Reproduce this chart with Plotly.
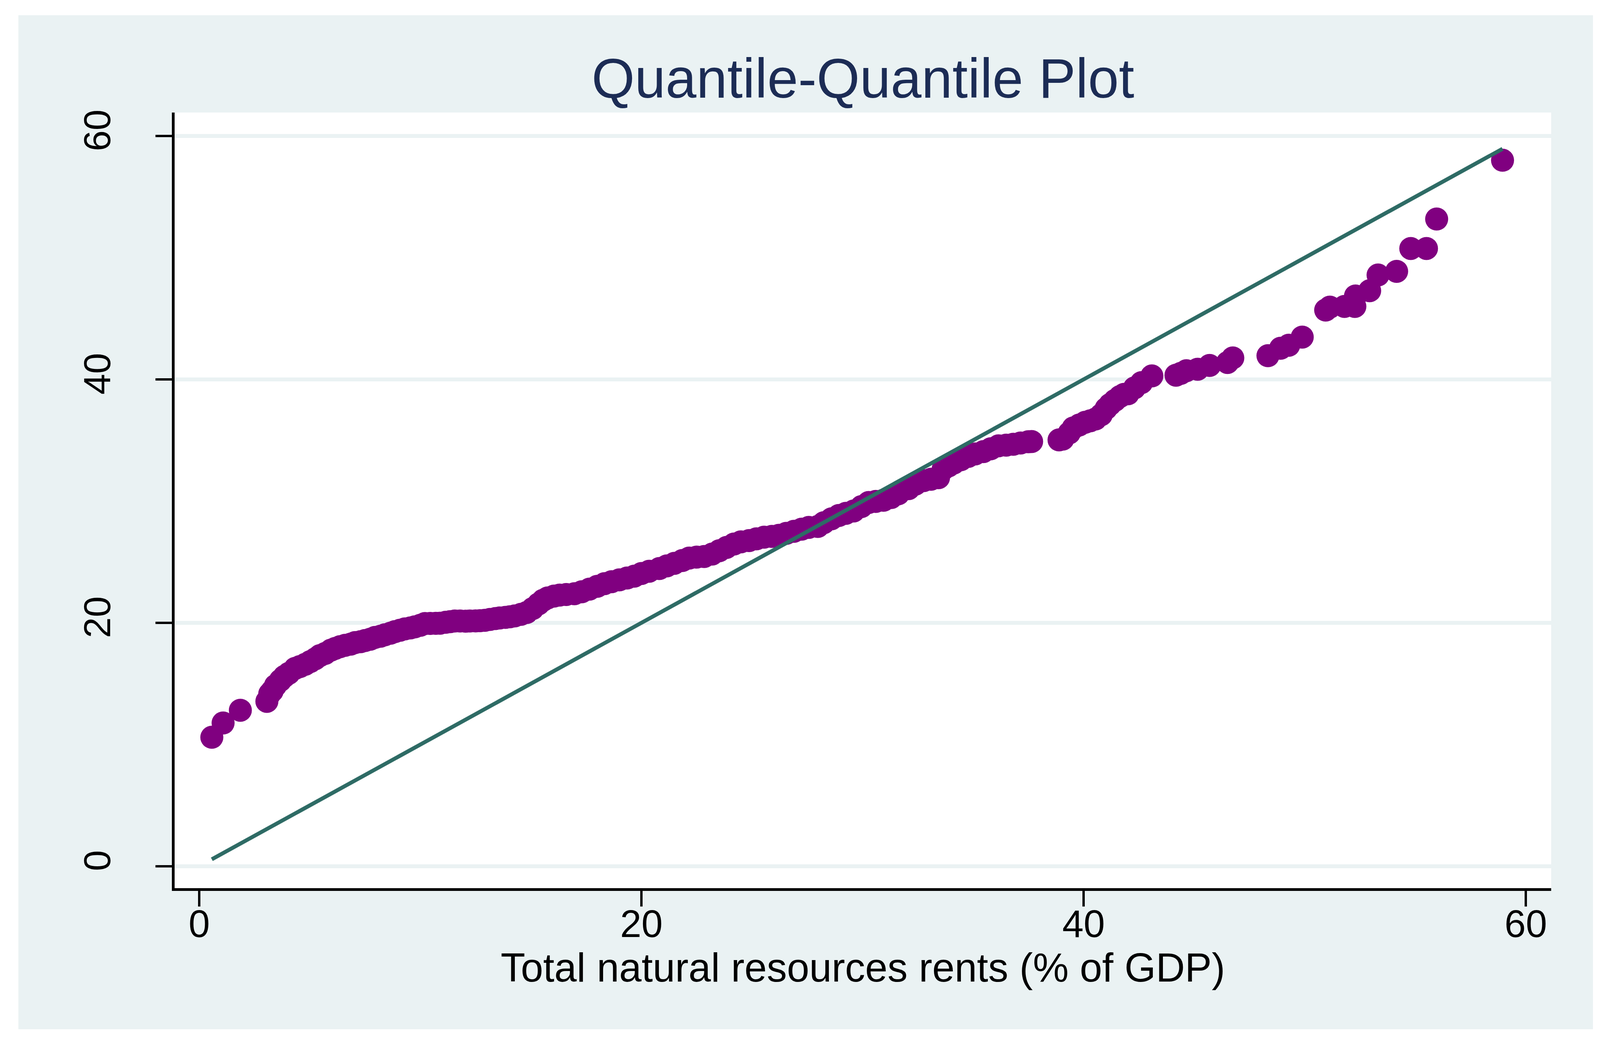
import plotly.graph_objects as go

# Quantiles of the second variable (x) and of rents (y)
qx = [0.57, 1.08, 1.86,
      3.06, 3.19, 3.30, 3.45, 3.67, 3.85, 4.05, 4.34, 4.55, 4.80, 5.02, 5.25, 5.45, 5.70,
      5.95, 6.15, 6.37, 6.60, 6.85, 7.05, 7.30, 7.50, 7.73, 7.95, 8.20, 8.40, 8.65, 8.85,
      9.08, 9.30, 9.55, 9.75, 10.00, 10.21, 10.45, 10.70, 10.89, 11.15, 11.35, 11.56,
      11.80, 12.05, 12.24, 12.50, 12.70, 12.92, 13.15, 13.40, 13.59, 13.85, 14.05, 14.27,
      14.55, 14.81, 15.08, 15.35, 15.55, 15.76, 16.05, 16.30, 16.60, 16.97, 17.30, 17.65,
      18.00, 18.33, 18.65, 19.00, 19.35, 19.68, 20.00, 20.35, 20.81, 21.15, 21.49, 21.85,
      22.16, 22.50, 22.84, 23.20, 23.52, 23.85, 24.19, 24.50, 24.87, 25.20, 25.55, 25.90,
      26.22, 26.55, 26.90, 27.25, 27.57, 27.98, 28.25, 28.60, 28.93, 29.25, 29.60, 29.95,
      30.28, 30.60, 30.95, 31.30, 31.62, 32.09, 32.40, 32.77, 33.10, 33.44, 33.65, 33.90,
      34.12, 34.45, 34.79, 35.10, 35.47, 35.80, 36.15, 36.50, 36.82, 37.15, 37.50, 37.65,
      38.89, 39.06, 39.35, 39.53, 39.80, 40.07, 40.30, 40.54, 40.80, 41.02, 41.20, 41.42,
      41.65, 41.83, 42.01, 42.30, 42.62, 43.09, 44.18, 44.40, 44.65, 45.16, 45.70, 46.51,
      46.75, 48.34, 48.91, 49.28, 49.89, 50.95, 51.14, 51.80, 52.27, 52.30, 52.94, 53.32,
      54.16, 54.80, 55.51, 55.97, 58.95]
qy = [10.60, 11.77, 12.82,
      13.55, 14.17, 14.41, 14.85, 15.27, 15.60, 15.85, 16.26, 16.40, 16.60, 16.81, 17.05, 17.30, 17.49,
      17.75, 17.90, 18.04, 18.15, 18.25, 18.38, 18.45, 18.55, 18.65, 18.80, 18.90, 19.02, 19.15, 19.28,
      19.39, 19.50, 19.58, 19.67, 19.80, 19.94, 19.95, 19.96, 19.97, 20.05, 20.10, 20.15,
      20.15, 20.14, 20.15, 20.16, 20.18, 20.21, 20.28, 20.35, 20.40, 20.45, 20.50, 20.57,
      20.70, 20.85, 21.17, 21.56, 21.85, 22.05, 22.20, 22.28, 22.33, 22.39, 22.55, 22.77,
      23.00, 23.22, 23.38, 23.53, 23.68, 23.84, 24.05, 24.24, 24.46, 24.68, 24.89, 25.12,
      25.32, 25.40, 25.45, 25.65, 25.92, 26.20, 26.48, 26.65, 26.76, 26.90, 27.04, 27.10,
      27.19, 27.35, 27.52, 27.70, 27.84, 27.92, 28.23, 28.55, 28.82, 29.00, 29.19, 29.55,
      29.89, 29.98, 30.07, 30.30, 30.60, 31.03, 31.40, 31.69, 31.80, 31.93, 32.63, 32.90,
      33.12, 33.40, 33.68, 33.88, 34.07, 34.30, 34.54, 34.60, 34.67, 34.78, 34.88, 34.90,
      35.03, 35.10, 35.60, 36.01, 36.25, 36.48, 36.60, 36.75, 37.10, 37.61, 37.95, 38.28,
      38.60, 38.77, 38.82, 39.30, 39.74, 40.29, 40.35, 40.50, 40.72, 40.84, 41.15, 41.39,
      41.77, 41.95, 42.56, 42.81, 43.48, 45.70, 45.94, 46.00, 46.00, 46.86, 47.29, 48.58,
      48.88, 50.76, 50.76, 53.18, 58.01]

# Reference line y = x over the data range
line_x = [0.57, 58.95]
line_y = [0.57, 58.95]

tick_vals = [0, 20, 40, 60]
tick_text = ["0", "20", "40", "60"]

title_text = "Quantile-Quantile Plot"
x_title = "Total natural resources rents (% of GDP)"

FONT = "Liberation Sans, Arial, sans-serif"
PANEL = "#EAF2F3"

W, H = 4109, 2659
L, R, T, B = 439, 146, 280, 394
pw, ph = W - L - R, H - T - B

fig = go.Figure()
fig.add_trace(go.Scatter(
    x=qx, y=qy, mode="markers",
    marker=dict(color="#800080", size=59, line=dict(width=0)),
    showlegend=False, hoverinfo="x+y"))
fig.add_trace(go.Scatter(
    x=line_x, y=line_y, mode="lines",
    line=dict(color="#2E6B65", width=10),
    showlegend=False, hoverinfo="skip"))


def px_x(p):
    return (p - L) / pw


def px_y(p):
    # pixel row from the top -> paper fraction
    return (H - B - p) / ph


# thin white frame around the light outer panel (pixel bands: left, right, top, bottom)
for (a, b, c, d) in [(0, 39, 0, H), (4070, W, 0, H), (0, W, 0, 31), (0, W, 2626, H)]:
    fig.add_shape(type="rect", xref="paper", yref="paper", layer="above",
                  x0=px_x(a), x1=px_x(b), y0=px_y(d), y1=px_y(c),
                  fillcolor="white", line=dict(width=0))

fig.update_layout(
    width=W, height=H, autosize=False,
    margin=dict(l=L, r=R, t=T, b=B, pad=0),
    paper_bgcolor=PANEL, plot_bgcolor="white",
    font=dict(family=FONT, color="black"),
    title=dict(text=title_text, x=0.5, xref="paper", xanchor="center",
               y=1 - 192 / H, yref="container", yanchor="middle",
               font=dict(family=FONT, size=142, color="#1C2C55")),
    xaxis=dict(range=[-1.113, 61.15], tickvals=tick_vals, ticktext=tick_text,
               ticks="outside", ticklen=40, tickwidth=6, tickcolor="black",
               showline=True, linewidth=7, linecolor="black",
               showgrid=False, zeroline=False, ticklabelstandoff=-40,
               tickfont=dict(family=FONT, size=98, color="black"),
               title=dict(text=x_title, standoff=0,
                          font=dict(family=FONT, size=103, color="black"))),
    yaxis=dict(range=[-1.80, 61.93], tickvals=tick_vals, ticktext=tick_text,
               ticks="outside", ticklen=42, tickwidth=6, tickcolor="black",
               showline=True, linewidth=7, linecolor="black",
               showgrid=True, gridcolor=PANEL, gridwidth=10,
               zeroline=False, tickangle=-90, ticklabelstandoff=78,
               tickfont=dict(family=FONT, size=96, color="black")),
)

fig.write_html("out.html")
